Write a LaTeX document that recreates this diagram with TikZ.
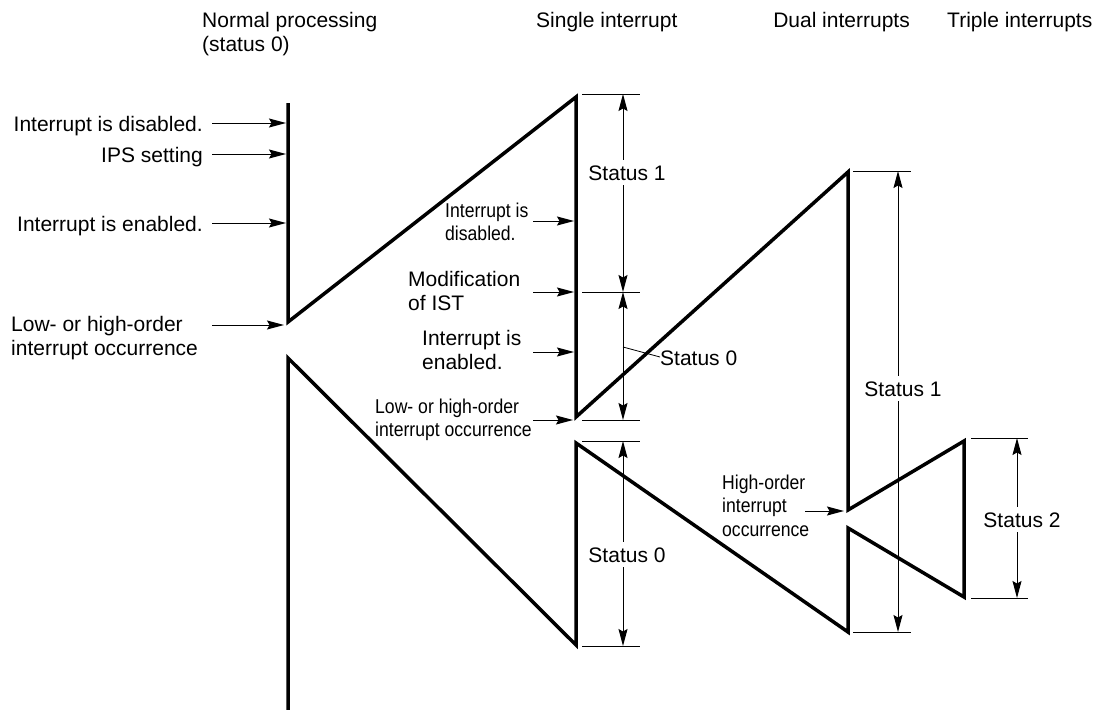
\documentclass[tikz,border=0pt]{standalone}
\usepackage{fontspec}
\setmainfont{Liberation Sans}
\usepackage{graphicx}
\usetikzlibrary{arrows.meta}
\newcommand{\ml}[1]{\begin{tabular}[t]{@{}l@{}}#1\end{tabular}}
\newcommand{\cml}[1]{\scalebox{0.88}[1]{\ml{#1}}}
\begin{document}
\begin{tikzpicture}[x=1pt,y=-1pt,
  outline/.style={line width=3.5pt, miter limit=20, line join=miter},
  ptr/.style={line width=1pt,-{Stealth[length=17pt,width=9pt,inset=2.5pt]}},
  dimline/.style={line width=1pt,{Stealth[length=17pt,width=9pt,inset=2.5pt]}-{Stealth[length=17pt,width=9pt,inset=2.5pt]}},
  tickline/.style={line width=1pt},
  lbl/.style={font=\fontsize{21}{24}\selectfont, inner sep=0pt},
  clbl/.style={font=\fontsize{20}{23.5}\selectfont, inner sep=0pt},
  stat/.style={font=\fontsize{21}{24}\selectfont, fill=white, inner xsep=3pt, inner ysep=5pt, anchor=base}]
\useasboundingbox (0,0) rectangle (1099,709);

% headers
\node[lbl, anchor=base west] (hnorm) at (202,28) {\ml{Normal processing\\(status 0)}};
\node[lbl, anchor=base west] (hsingle) at (536,28) {Single interrupt};
\node[lbl, anchor=base east] (hdual) at (910,28) {Dual interrupts};
\node[lbl, anchor=base west] (htriple) at (947,28) {Triple interrupts};

% main outline
\draw[outline] (288,103) -- (288,322) -- (576,97) -- (576,417) -- (848,172) -- (848,510)
  -- (964,441) -- (964,597) -- (848,528) -- (848,632) -- (576,443) -- (576,645)
  -- (288,358) -- (288,712);

% left labels
\node[lbl, anchor=base east] (l1) at (203,131) {Interrupt is disabled.};
\node[lbl, anchor=base east] (l2) at (203,162) {IPS setting};
\node[lbl, anchor=base east] (l3) at (203,231) {Interrupt is enabled.};
\node[lbl, anchor=base west] (l4) at (11,331) {\ml{Low- or high-order\\interrupt occurrence}};
\coordinate (l1a) at (212,123); \coordinate (l1b) at (286,123);
\coordinate (l2a) at (212,154); \coordinate (l2b) at (286,154);
\coordinate (l3a) at (212,223); \coordinate (l3b) at (286,223);
\coordinate (l4a) at (212,325); \coordinate (l4b) at (284,325);
\draw[ptr] (l1a) -- (l1b);
\draw[ptr] (l2a) -- (l2b);
\draw[ptr] (l3a) -- (l3b);
\draw[ptr] (l4a) -- (l4b);

% middle labels
\node[clbl, anchor=base west] (m1) at (445,217) {\cml{Interrupt is\\disabled.}};
\node[lbl, anchor=base west] (m2) at (408,286) {\ml{Modification\\of IST}};
\node[lbl, anchor=base west] (m3) at (422,345) {\ml{Interrupt is\\enabled.}};
\node[clbl, anchor=base west] (m4) at (375,413) {\cml{Low- or high-order\\interrupt occurrence}};
\coordinate (m1a) at (533,221); \coordinate (m1b) at (574,221);
\coordinate (m2a) at (533,292); \coordinate (m2b) at (574,292);
\coordinate (m3a) at (533,352); \coordinate (m3b) at (574,352);
\coordinate (m4a) at (533,420); \coordinate (m4b) at (573,420);
\draw[ptr] (m1a) -- (m1b);
\draw[ptr] (m2a) -- (m2b);
\draw[ptr] (m3a) -- (m3b);
\draw[ptr] (m4a) -- (m4b);

% high-order label
\node[clbl, anchor=base west] (h1) at (722,489) {\cml{High-order\\interrupt\\occurrence}};
\coordinate (h1a) at (805,511); \coordinate (h1b) at (844,511);
\draw[ptr] (h1a) -- (h1b);

% single interrupt dimensions
\coordinate (s1t) at (623,94); \coordinate (s1m) at (623,292);
\coordinate (s1b) at (623,420); \coordinate (s2t) at (623,441);
\coordinate (s2b) at (623,646);
\draw[tickline] (582,94) -- (640,94);
\draw[tickline] (582,292) -- (640,292);
\draw[tickline] (582,420) -- (640,420);
\draw[tickline] (582,441) -- (640,441);
\draw[tickline] (582,646) -- (640,646);
\draw[dimline] (s1t) -- (s1m);
\draw[dimline] (s1m) -- (s1b);
\draw[dimline] (s2t) -- (s2b);
\node[stat] (st1) at (627,180) {Status 1};
\node[stat] (st0b) at (627,562) {Status 0};
\node[lbl, anchor=base west] (st0a) at (660,365) {Status 0};
\coordinate (lead) at (623,347);
\draw[line width=0.8pt] (lead) -- (st0a.west |- 0,357);

% dual interrupt dimension
\coordinate (d1t) at (898,171); \coordinate (d1b) at (898,632);
\draw[tickline] (853,171) -- (911,171);
\draw[tickline] (853,632) -- (911,632);
\draw[dimline] (d1t) -- (d1b);
\node[stat] (sd1) at (903,396) {Status 1};

% triple interrupt dimension
\coordinate (t1t) at (1017,438); \coordinate (t1b) at (1017,598);
\draw[tickline] (971,438) -- (1028,438);
\draw[tickline] (971,598) -- (1028,598);
\draw[dimline] (t1t) -- (t1b);
\node[stat] (st2) at (1022,527) {Status 2};
\end{tikzpicture}
\end{document}
